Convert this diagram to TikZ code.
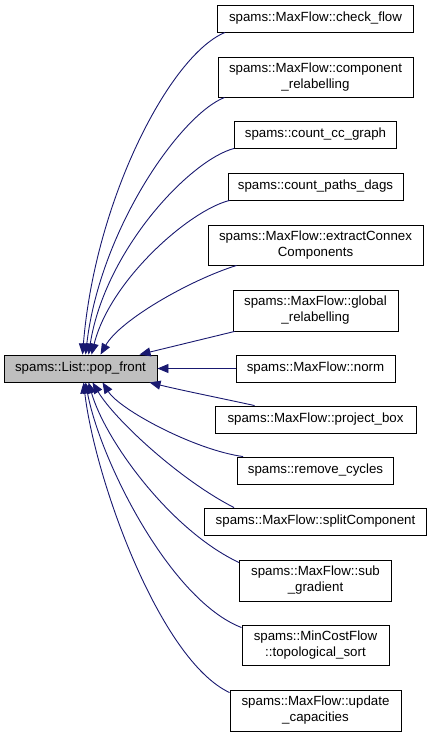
\documentclass[tikz,border=0pt]{standalone}
\usepackage{fontspec}
\setmainfont{Liberation Sans}
\usetikzlibrary{arrows.meta}
\definecolor{edgeblue}{HTML}{191970}
\definecolor{maingray}{HTML}{BFBFBF}
\tikzset{
  box/.style={draw=black, line width=0.9pt, fill=white, rectangle, inner sep=0pt, align=center,
    font=\fontsize{13.3}{16}\selectfont},
  mainbox/.style={box, fill=maingray},
  edge/.style={draw=edgeblue, line width=0.9pt, -{Triangle[length=11pt,width=9pt]}}
}
\begin{document}
\begin{tikzpicture}[x=1pt,y=-1pt]
\useasboundingbox (0,0) rectangle (432,737);
\node[mainbox, minimum width=153pt, minimum height=27pt] (m) at (80.5,368.5) {spams::List::pop\_front};

\node[box, minimum width=196pt, minimum height=27pt] (r1) at (315.5,18.5) {spams::MaxFlow::check\_flow};
\node[box, minimum width=195pt, minimum height=40pt] (r2) at (315.5,77) {spams::MaxFlow::component\\\_relabelling};
\node[box, minimum width=162pt, minimum height=27pt] (r3) at (315.5,134.5) {spams::count\_cc\_graph};
\node[box, minimum width=175pt, minimum height=27pt] (r4) at (315.5,186.5) {spams::count\_paths\_dags};
\node[box, minimum width=215pt, minimum height=40pt] (r5) at (315.5,245) {spams::MaxFlow::extractConnex\\Components};
\node[box, minimum width=165pt, minimum height=41pt] (r6) at (315.5,310.5) {spams::MaxFlow::global\\\_relabelling};
\node[box, minimum width=159pt, minimum height=27pt] (r7) at (315.5,368.5) {spams::MaxFlow::norm};
\node[box, minimum width=201pt, minimum height=27pt] (r8) at (315.5,419.5) {spams::MaxFlow::project\_box};
\node[box, minimum width=156pt, minimum height=27pt] (r9) at (315.5,470.5) {spams::remove\_cycles};
\node[box, minimum width=222pt, minimum height=27pt] (r10) at (315.5,521.5) {spams::MaxFlow::splitComponent};
\node[box, minimum width=152pt, minimum height=41pt] (r11) at (315.5,580.5) {spams::MaxFlow::sub\\\_gradient};
\node[box, minimum width=147pt, minimum height=40pt] (r12) at (315.5,645) {spams::MinCostFlow\\::topological\_sort};
\node[box, minimum width=171pt, minimum height=41pt] (r13) at (315.5,710.5) {spams::MaxFlow::update\\\_capacities};

% upper edges
\draw[edge] ([xshift=8pt]r1.south west) .. controls (170,55) and (95,200) .. ([xshift=79pt]m.north west);
\draw[edge] ([xshift=7pt]r2.south west) .. controls (180,115) and (100,230) .. ([xshift=82pt]m.north west);
\draw[edge] ([xshift=0pt]r3.south west) .. controls (190,160) and (105,250) .. ([xshift=85pt]m.north west);
\draw[edge] ([xshift=2pt]r4.south west) .. controls (190,210) and (110,280) .. ([xshift=88pt]m.north west);
\draw[edge] ([xshift=29pt]r5.south west) .. controls (190,280) and (120,320) .. ([xshift=97pt]m.north west);
\draw[edge] ([xshift=2pt]r6.south west) -- ([xshift=136pt]m.north west);
\draw[edge] (r7.west) -- (m.east);
% lower edges
\draw[edge] ([xshift=40pt]r8.north west) .. controls (220,398) and (180,390) .. ([xshift=146pt]m.south west);
\draw[edge] ([xshift=6pt]r9.north west) .. controls (195,450) and (120,410) .. ([xshift=99pt]m.south west);
\draw[edge] ([xshift=30pt]r10.north west) .. controls (180,480) and (115,420) .. ([xshift=89pt]m.south west);
\draw[edge] ([yshift=-3pt]r11.north west) .. controls (170,530) and (105,440) .. ([xshift=85pt]m.south west);
\draw[edge] ([yshift=-3pt]r12.north west) .. controls (170,600) and (100,460) .. ([xshift=82pt]m.south west);
\draw[edge] ([yshift=-3pt]r13.north west) .. controls (160,660) and (95,480) .. ([xshift=80pt]m.south west);
\end{tikzpicture}
\end{document}
